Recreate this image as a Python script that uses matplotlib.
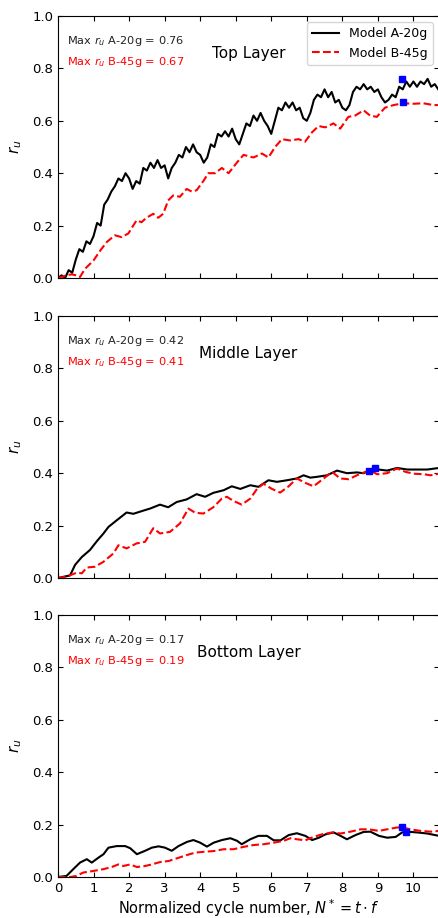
import numpy as np
import matplotlib
matplotlib.use("Agg")
import matplotlib.pyplot as plt

# === Top layer, Model A-20g (step 0.1 in N*) === #
top_a_x = np.round(np.arange(0, 108) * 0.1, 2)
top_a_y = [0.00, 0.01, 0.00, 0.03, 0.02, 0.07, 0.11, 0.10, 0.14, 0.13,
           0.16, 0.21, 0.20, 0.28, 0.30, 0.33, 0.35, 0.38, 0.37, 0.40,
           0.38, 0.34, 0.37, 0.36, 0.42, 0.41, 0.44, 0.42, 0.45, 0.42,
           0.43, 0.38, 0.42, 0.44, 0.47, 0.46, 0.50, 0.48, 0.51, 0.48,
           0.47, 0.44, 0.46, 0.51, 0.50, 0.55, 0.54, 0.56, 0.54, 0.57,
           0.53, 0.51, 0.55, 0.59, 0.58, 0.62, 0.60, 0.63, 0.60, 0.58,
           0.55, 0.60, 0.65, 0.64, 0.67, 0.65, 0.67, 0.64, 0.65, 0.61,
           0.60, 0.63, 0.68, 0.70, 0.69, 0.72, 0.69, 0.71, 0.67, 0.68,
           0.65, 0.64, 0.66, 0.71, 0.73, 0.72, 0.74, 0.72, 0.73, 0.71,
           0.72, 0.69, 0.67, 0.68, 0.70, 0.69, 0.73, 0.72, 0.75, 0.73,
           0.75, 0.73, 0.75, 0.74, 0.76, 0.73, 0.74, 0.72]

# === Top layer, Model B-45g === #
top_b_x = [0.0, 0.24, 0.38, 0.52, 0.62, 0.76, 1.0, 1.19, 1.37, 1.6, 1.79,
           1.98, 2.07, 2.21, 2.35, 2.49, 2.68, 2.82, 2.96, 3.1, 3.24, 3.43,
           3.62, 3.76, 3.9, 4.09, 4.23, 4.42, 4.61, 4.8, 5.03, 5.22, 5.5,
           5.74, 5.92, 6.11, 6.3, 6.53, 6.77, 6.95, 7.14, 7.33, 7.52, 7.75,
           7.94, 8.17, 8.36, 8.6, 8.78, 8.97, 9.2, 9.44, 9.72, 10.0, 10.28,
           10.56, 10.72]
top_b_y = [0.0, 0.01, 0.014, 0.01, 0.004, 0.035, 0.067, 0.105, 0.137,
           0.163, 0.156, 0.17, 0.19, 0.22, 0.213, 0.23, 0.245, 0.23, 0.245,
           0.296, 0.315, 0.31, 0.34, 0.33, 0.335, 0.37, 0.40, 0.40, 0.42,
           0.40, 0.44, 0.47, 0.46, 0.475, 0.46, 0.50, 0.53, 0.525, 0.53,
           0.52, 0.555, 0.58, 0.575, 0.59, 0.57, 0.615, 0.62, 0.64, 0.62,
           0.615, 0.65, 0.66, 0.667, 0.665, 0.667, 0.66, 0.66]

# === Middle layer === #
mid_a_x = [0.0, 0.34, 0.48, 0.67, 0.9, 1.09, 1.28, 1.42, 1.65, 1.93, 2.12,
           2.35, 2.59, 2.87, 3.1, 3.34, 3.62, 3.9, 4.14, 4.37, 4.66, 4.89,
           5.13, 5.41, 5.64, 5.92, 6.16, 6.44, 6.72, 6.91, 7.1, 7.28, 7.57,
           7.85, 8.13, 8.41, 8.6, 8.74, 9.02, 9.26, 9.54, 9.83, 10.11,
           10.39, 10.72]
mid_a_y = [0.0, 0.01, 0.05, 0.08, 0.107, 0.14, 0.17, 0.195, 0.22, 0.25,
           0.245, 0.255, 0.265, 0.28, 0.27, 0.29, 0.30, 0.32, 0.31, 0.325,
           0.335, 0.35, 0.34, 0.354, 0.348, 0.373, 0.367, 0.373, 0.38,
           0.392, 0.383, 0.386, 0.392, 0.41, 0.40, 0.403, 0.40, 0.41,
           0.414, 0.41, 0.42, 0.414, 0.414, 0.414, 0.42]

mid_b_x = [0.0, 0.24, 0.52, 0.67, 0.81, 1.04, 1.28, 1.56, 1.7, 1.93, 2.21,
           2.45, 2.68, 2.87, 3.15, 3.43, 3.67, 3.86, 4.09, 4.37, 4.61, 4.75,
           4.94, 5.17, 5.41, 5.6, 5.78, 6.02, 6.25, 6.49, 6.72, 6.96, 7.19,
           7.43, 7.71, 7.94, 8.18, 8.41, 8.65, 8.79, 8.98, 9.26, 9.54, 9.78,
           10.01, 10.3, 10.48, 10.72]
mid_b_y = [0.0, 0.005, 0.02, 0.018, 0.04, 0.043, 0.062, 0.094, 0.125,
           0.113, 0.132, 0.138, 0.19, 0.17, 0.176, 0.208, 0.265, 0.249,
           0.246, 0.27, 0.303, 0.31, 0.294, 0.28, 0.303, 0.34, 0.36, 0.34,
           0.326, 0.35, 0.38, 0.363, 0.35, 0.375, 0.405, 0.38, 0.377,
           0.392, 0.405, 0.41, 0.396, 0.40, 0.418, 0.405, 0.398, 0.396,
           0.392, 0.398]

# === Bottom layer === #
bot_a_x = [0.0, 0.24, 0.43, 0.62, 0.81, 0.95, 1.14, 1.28, 1.42, 1.65, 1.89,
           2.03, 2.22, 2.45, 2.64, 2.83, 3.01, 3.2, 3.39, 3.63, 3.81, 4.0,
           4.19, 4.38, 4.61, 4.85, 5.04, 5.17, 5.41, 5.64, 5.88, 6.07, 6.26,
           6.49, 6.72, 6.96, 7.15, 7.34, 7.53, 7.76, 7.95, 8.13, 8.37, 8.6,
           8.79, 9.03, 9.26, 9.5, 9.68, 9.83, 10.11, 10.39, 10.72]
bot_a_y = [0.0, 0.004, 0.03, 0.055, 0.068, 0.055, 0.074, 0.087, 0.112,
           0.118, 0.118, 0.11, 0.087, 0.10, 0.112, 0.117, 0.112, 0.10,
           0.118, 0.134, 0.141, 0.131, 0.116, 0.131, 0.141, 0.148, 0.138,
           0.125, 0.144, 0.157, 0.157, 0.14, 0.14, 0.16, 0.167, 0.157,
           0.141, 0.15, 0.163, 0.17, 0.157, 0.144, 0.16, 0.172, 0.173,
           0.157, 0.15, 0.153, 0.17, 0.173, 0.17, 0.166, 0.157]

bot_b_x = [0.0, 0.34, 0.52, 0.71, 0.99, 1.28, 1.51, 1.7, 1.84, 2.03, 2.22,
           2.45, 2.64, 2.87, 3.11, 3.34, 3.63, 3.86, 4.09, 4.38, 4.66, 4.94,
           5.22, 5.5, 5.78, 6.07, 6.35, 6.54, 6.72, 6.96, 7.19, 7.43, 7.71,
           7.95, 8.23, 8.51, 8.75, 9.03, 9.26, 9.54, 9.68, 9.92, 10.2,
           10.48, 10.72]
bot_b_y = [0.0, 0.0, 0.004, 0.017, 0.023, 0.03, 0.038, 0.048, 0.042,
           0.048, 0.038, 0.042, 0.048, 0.057, 0.061, 0.071, 0.084, 0.093,
           0.096, 0.099, 0.106, 0.106, 0.115, 0.122, 0.125, 0.131, 0.138,
           0.148, 0.144, 0.14, 0.153, 0.163, 0.17, 0.166, 0.173, 0.182,
           0.182, 0.176, 0.182, 0.189, 0.189, 0.182, 0.176, 0.173, 0.176]

# === Peak markers and annotations === #
layer_names = ["Top Layer", "Middle Layer", "Bottom Layer"]
peak_a = [(9.69, 0.76), (8.92, 0.42), (9.8, 0.17)]
peak_b = [(9.72, 0.67), (8.75, 0.41), (9.68, 0.19)]
max_a = [0.76, 0.42, 0.17]
max_b = [0.67, 0.41, 0.19]

series = [(top_a_x, top_a_y, top_b_x, top_b_y),
          (mid_a_x, mid_a_y, mid_b_x, mid_b_y),
          (bot_a_x, bot_a_y, bot_b_x, bot_b_y)]

fig = plt.figure(figsize=(4.38, 9.18), dpi=100)
W, H = 438.0, 918.0
bottoms_px = [278, 578, 877]   # pixel row of y=0 for each panel

for i, (ax_x, ax_y, bx, by) in enumerate(series):
    ax = fig.add_axes([58 / W, (H - bottoms_px[i]) / H, 381 / W, 262 / H])
    ax.plot(ax_x, ax_y, color='black', lw=1.5, label='Model A-20g')
    ax.plot(bx, by, color='red', lw=1.5, ls='--', label='Model B-45g')
    ax.plot(*peak_a[i], marker='s', color='blue', ms=5, zorder=5)
    ax.plot(*peak_b[i], marker='s', color='blue', ms=5, zorder=5)

    ax.set_xlim(0, 10.72)
    ax.set_ylim(0, 1.0)
    ax.set_xticks(range(0, 11))
    ax.set_yticks([0.0, 0.2, 0.4, 0.6, 0.8, 1.0])
    ax.tick_params(direction='in', top=True, right=True, labelsize=9.5)
    ax.set_ylabel(r'$r_u$', fontsize=11)
    ax.yaxis.set_label_coords(-0.088, 0.5)

    ax.text(0.024, 0.905, r'Max $r_u$ A-20g = %.2f' % max_a[i],
            transform=ax.transAxes, fontsize=8.2, color='#222222', va='center')
    ax.text(0.024, 0.825, r'Max $r_u$ B-45g = %.2f' % max_b[i],
            transform=ax.transAxes, fontsize=8.2, color='red', va='center')
    ax.text(0.5, 0.858, layer_names[i], transform=ax.transAxes,
            fontsize=11, ha='center', va='center')

    if i == 0:
        ax.legend(loc='upper right', fontsize=9, handlelength=2.2)
    if i < 2:
        ax.tick_params(labelbottom=False)
    else:
        ax.set_xlabel(r'Normalized cycle number, $N^* = t \cdot f$',
                      fontsize=10.5, labelpad=2)

fig.savefig('out.png', dpi=100)
